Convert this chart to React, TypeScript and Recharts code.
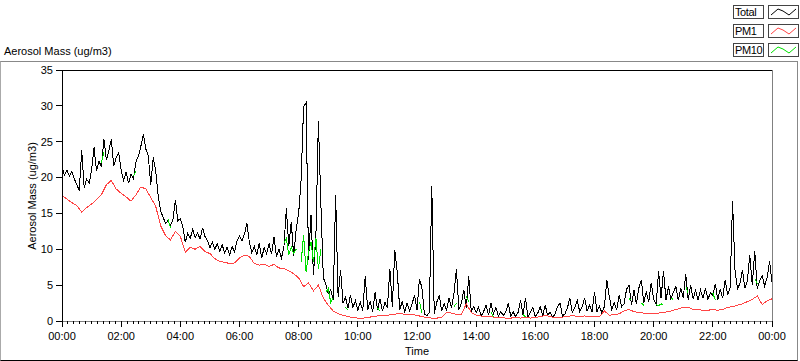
import React from 'react';
import { LineChart, Line, XAxis, YAxis, ReferenceLine } from 'recharts';

const timeLabels = ['00:00', '02:00', '04:00', '06:00', '08:00', '10:00', '12:00', '14:00', '16:00', '18:00', '20:00', '22:00', '00:00'];
const yTicks = [0, 5, 10, 15, 20, 25, 30, 35];
const seriesNames = ['Total', 'PM1', 'PM10'];
const seriesColors = ['#000000', '#ff4444', '#00e000'];

// Total, one value every 5 minutes, 00:00 .. 24:00
const totalMass = [
  21.5, 20.3, 21.0, 20.2, 20.8, 19.8, 19.0, 18.2, 23.8, 18.6, 19.8, 19.2,
  21.0, 24.2, 20.9, 22.3, 21.5, 25.4, 22.4, 23.8, 25.3, 21.6, 22.8, 23.5,
  21.0, 19.6, 20.8, 19.2, 20.5, 19.8, 22.2, 23.0, 24.4, 26.0, 24.0, 23.0,
  19.0, 22.8, 21.0, 17.5, 15.3, 14.5, 13.6, 14.0, 13.3, 14.2, 16.8, 14.0,
  14.3, 13.2, 11.0, 12.2, 11.5, 12.8, 11.6, 12.3, 11.4, 13.0, 11.8, 11.2,
  10.2, 11.0, 10.0, 10.8, 9.7, 10.6, 9.5, 10.3, 9.2, 10.4, 9.6, 11.2,
  11.9, 11.2, 12.1, 13.6, 11.0, 9.5, 10.4, 9.2, 10.8, 8.8, 10.2, 9.4,
  10.8, 9.3, 11.7, 9.0, 10.0, 8.8, 10.2, 15.7, 10.5, 13.8, 9.0, 12.9,
  15.0, 19.8, 29.9, 30.4, 8.5, 14.8, 6.4, 12.0, 27.9, 16.5, 6.0, 5.2,
  3.8, 4.4, 2.9, 17.5, 3.4, 7.1, 2.5, 3.3, 1.8, 3.6, 1.9, 2.8,
  1.5, 2.6, 1.4, 6.2, 1.6, 2.7, 1.3, 4.0, 1.5, 3.1, 1.4, 2.6,
  1.8, 7.3, 2.0, 9.9, 6.8, 1.6, 2.7, 1.3, 2.5, 1.4, 2.4, 3.6,
  1.5, 5.9, 4.6, 1.0, 0.7, 1.2, 18.8, 1.0, 2.6, 3.6, 1.4, 2.4,
  1.5, 3.2, 1.8, 3.9, 7.2, 1.6, 2.5, 4.3, 1.8, 6.2, 1.3, 2.0,
  1.2, 1.9, 0.7, 1.3, 2.2, 0.8, 2.5, 1.0, 1.9, 0.7, 1.3, 0.8,
  1.2, 2.5, 0.7, 1.3, 0.6, 1.2, 2.9, 0.8, 3.2, 0.6, 1.2, 1.9,
  0.6, 1.1, 2.0, 0.7, 2.2, 0.8, 1.2, 0.5, 1.0, 2.0, 2.5, 0.7,
  1.0, 1.8, 3.2, 1.2, 1.9, 2.9, 1.3, 2.0, 3.2, 1.4, 2.2, 1.3,
  4.1, 1.3, 2.1, 1.1, 2.0, 5.7, 3.4, 1.6, 2.6, 1.5, 3.6, 2.0,
  2.4, 4.4, 5.0, 2.2, 4.3, 2.4, 4.6, 5.7, 2.5, 4.1, 2.6, 5.3,
  3.0, 2.3, 6.9, 3.2, 7.0, 2.9, 4.8, 3.0, 4.0, 4.8, 2.9, 4.6,
  3.2, 6.6, 3.0, 5.0, 3.1, 4.3, 2.9, 4.3, 3.2, 4.6, 3.0, 3.9,
  3.6, 5.2, 3.0, 4.4, 3.2, 5.7, 3.6, 4.6, 16.7, 7.1, 4.5, 5.2,
  7.1, 4.6, 5.6, 9.2, 5.0, 9.8, 4.5, 5.6, 6.3, 4.9, 6.0, 8.3,
  5.5,
];

// PM1, one value every 10 minutes
const pm1Mass = [
  17.5, 17.0, 16.5, 16.1, 15.2, 15.8, 16.3, 16.9, 17.6, 19.0, 19.6, 18.4,
  17.8, 17.3, 16.7, 17.6, 18.7, 18.4, 17.2, 16.0, 13.3, 11.9, 11.3, 12.5,
  11.8, 9.6, 10.3, 10.0, 10.4, 9.7, 9.4, 8.7, 8.3, 8.2, 8.0, 8.1,
  8.8, 9.2, 9.0, 8.0, 7.8, 7.9, 7.6, 7.9, 7.4, 7.3, 7.0, 6.6,
  6.0, 4.8, 5.3, 4.2, 5.0, 3.2, 2.2, 1.4, 1.0, 0.8, 0.6, 0.5,
  0.4, 0.4, 0.5, 0.6, 0.7, 0.8, 0.8, 0.9, 1.0, 1.0, 0.9, 0.9,
  0.8, 0.6, 0.5, 0.4, 0.4, 0.5, 1.2, 1.1, 0.9, 0.9, 2.4, 1.2,
  0.8, 0.7, 0.6, 0.6, 0.5, 0.5, 0.4, 0.4, 0.5, 0.4, 0.5, 0.4,
  0.5, 0.6, 0.8, 0.6, 0.5, 0.5, 0.6, 0.7, 0.7, 0.6, 0.7, 0.6,
  0.6, 0.6, 1.4, 0.8, 0.9, 1.0, 1.4, 1.6, 1.3, 1.2, 1.1, 1.0,
  1.0, 1.1, 1.2, 1.3, 1.5, 1.7, 1.9, 1.9, 1.6, 1.6, 1.5, 1.5,
  1.6, 1.5, 1.6, 1.9, 2.0, 2.2, 2.4, 2.7, 3.0, 3.5, 2.3, 2.8,
  3.1,
];

// PM10, only the stretches that show from under Total
const pm10Minutes = [
  80, 85, 145, 150, 215, 220, 450, 455, 460, 465, 470, 475,
  485, 490, 495, 500, 505, 510, 515, 520, 525, 535, 540, 545, 550,
  575, 580, 640, 645, 725, 730, 795, 800, 820, 825, 870, 875, 935, 940,
  1150, 1155, 1175, 1180, 1205, 1210, 1215, 1220, 1235, 1240, 1265, 1270,
  1320, 1325, 1405, 1410,
];
const pm10Mass = [
  22.1, 23.5, 20.2, 20.9, 14.2, 13.0, 10.8, 11.5, 9.2, 10.3, 9.4, 10.0,
  8.2, 12.0, 6.8, 9.6, 11.0, 8.2, 11.5, 7.3, 10.0, 4.0, 4.5, 2.6, 3.2,
  1.9, 1.5, 1.8, 1.4, 2.7, 1.1, 2.0, 2.5, 3.5, 2.6, 1.2, 0.6, 0.9, 0.6,
  3.1, 2.9, 2.5, 2.2, 2.3, 2.1, 2.4, 2.2, 3.2, 3.0, 4.8, 3.9,
  3.9, 2.9, 5.9, 5.2,
];

const data = totalMass.map((v, i) => {
  const minute = i * 5;
  const j = pm10Minutes.indexOf(minute);
  return {
    minute,
    total: v,
    pm1: minute % 10 === 0 ? pm1Mass[minute / 10] : null,
    pm10: j >= 0 ? pm10Mass[j] : null,
  };
});

const xTicks = Array.from({ length: 121 }, (_, i) => i * 12);

const TimeTick = (props: any) => {
  const { x, y, payload } = props;
  const major = payload.value % 120 === 0;
  return (
    <g>
      <line x1={x} x2={x} y1={y} y2={y + (major ? 6 : 3)} stroke="#000" shapeRendering="crispEdges" />
      {major && (
        <text x={x} y={y + 19} textAnchor="middle" fontSize={11} fill="#000">
          {timeLabels[payload.value / 120]}
        </text>
      )}
    </g>
  );
};

const LegendIcon = ({ color }: { color: string }) => (
  <svg width={29} height={12} style={{ display: 'block' }}>
    <polyline points="2,9 9,3 14,5 20,9 27,3" fill="none" stroke={color} strokeWidth={1} />
  </svg>
);

export default function App() {
  const font = '"Liberation Sans", Arial, sans-serif';
  return (
    <div
      className="lv"
      style={{ position: 'absolute', left: 0, top: 0, width: 800, height: 361, fontFamily: font, fontSize: 11, background: '#fff' }}
    >
      <style>{`.lv .recharts-line-curve, .lv .recharts-cartesian-axis-line, .lv .recharts-cartesian-axis-tick-line, .lv .recharts-reference-line-line { shape-rendering: crispEdges; }`}</style>

      {/* outer frame */}
      <div
        style={{
          position: 'absolute', left: 0, top: 61, width: 796, height: 298,
          borderTop: '1px solid #888', borderLeft: '1px solid #aaa',
          borderRight: '1px solid #888', borderBottom: '1px solid #000',
        }}
      />

      <div style={{ position: 'absolute', left: 4, top: 45, lineHeight: '13px', whiteSpace: 'nowrap' }}>
        Aerosol Mass (ug/m3)
      </div>

      {seriesNames.map((name, i) => (
        <React.Fragment key={name}>
          <div
            style={{
              position: 'absolute', left: 733, top: 5 + i * 19, width: 28, height: 12,
              border: '1px solid #444', lineHeight: '12px', paddingLeft: 1, boxSizing: 'content-box',
              fontSize: 11, letterSpacing: -0.4, whiteSpace: 'nowrap', overflow: 'hidden',
            }}
          >
            {name}
          </div>
          <div
            style={{
              position: 'absolute', left: 768, top: 5 + i * 19, width: 29, height: 12,
              border: '1px solid #444',
            }}
          >
            <LegendIcon color={seriesColors[i]} />
          </div>
        </React.Fragment>
      ))}

      <div style={{ position: 'absolute', left: 0, top: 0 }}>
        <LineChart width={800} height={361} data={data} margin={{ top: 70, right: 28, bottom: 10, left: 12 }}>
          <XAxis
            dataKey="minute"
            type="number"
            domain={[0, 1440]}
            ticks={xTicks}
            interval={0}
            height={30}
            tickSize={0}
            tickMargin={0}
            tickLine={false}
            axisLine={{ stroke: '#808080' }}
            tick={<TimeTick />}
          />
          <YAxis
            type="number"
            domain={[0, 35]}
            ticks={yTicks}
            interval={0}
            width={50}
            tickSize={6}
            tickMargin={3}
            axisLine={{ stroke: '#000' }}
            tickLine={{ stroke: '#000' }}
            tick={{ fontSize: 11, fill: '#000' }}
          />
          <ReferenceLine y={35} stroke="#000" />
          <ReferenceLine x={1440} stroke="#808080" />
          <Line dataKey="total" stroke={seriesColors[0]} strokeWidth={1} dot={false} isAnimationActive={false} />
          <Line dataKey="pm1" stroke={seriesColors[1]} strokeWidth={1} dot={false} connectNulls isAnimationActive={false} />
          <Line dataKey="pm10" stroke={seriesColors[2]} strokeWidth={1} dot={false} connectNulls={false} isAnimationActive={false} />
        </LineChart>
      </div>

      <div
        style={{
          position: 'absolute', left: 32, top: 196, transform: 'translate(-50%, -50%) rotate(-90deg)',
          whiteSpace: 'nowrap', lineHeight: '13px',
        }}
      >
        Aerosol Mass (ug/m3)
      </div>
      <div style={{ position: 'absolute', left: 417, top: 345, transform: 'translateX(-50%)', lineHeight: '13px' }}>
        Time
      </div>
    </div>
  );
}
